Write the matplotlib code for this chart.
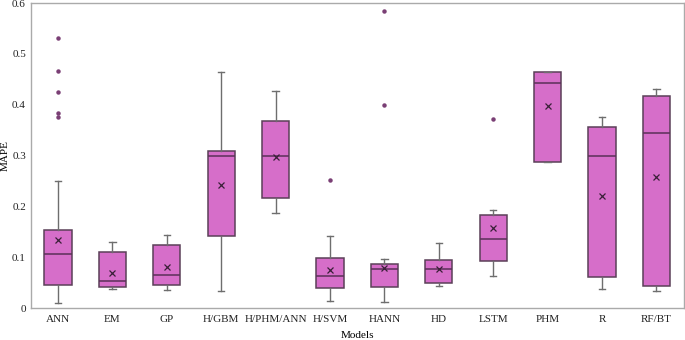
import matplotlib
matplotlib.use("Agg")
import matplotlib.pyplot as plt

models = ["ANN", "EM", "GP", "H/GBM", "H/PHM/ANN", "H/SVM", "HANN", "HD", "LSTM", "PHM", "R", "RF/BT"]
whislo = [0.009, 0.038, 0.035, 0.034, 0.186, 0.013, 0.011, 0.044, 0.064, 0.287, 0.037, 0.034]
q1     = [0.045, 0.041, 0.045, 0.142, 0.216, 0.040, 0.042, 0.050, 0.093, 0.287, 0.062, 0.044]
med    = [0.106, 0.053, 0.065, 0.300, 0.300, 0.064, 0.076, 0.076, 0.135, 0.442, 0.300, 0.345]
q3     = [0.154, 0.110, 0.124, 0.309, 0.368, 0.099, 0.086, 0.094, 0.184, 0.465, 0.356, 0.418]
whishi = [0.249, 0.129, 0.144, 0.465, 0.427, 0.141, 0.097, 0.127, 0.193, 0.465, 0.376, 0.431]
means  = [0.134, 0.069, 0.080, 0.243, 0.297, 0.075, 0.079, 0.077, 0.158, 0.397, 0.220, 0.257]
fliers = [[0.531, 0.466, 0.425, 0.383, 0.375], [], [], [], [], [0.252], [0.585, 0.399], [], [0.372], [], [], []]

plt.rcParams['font.family'] = ['Liberation Serif', 'DejaVu Serif']

fig = plt.figure(figsize=(6.85, 3.4), dpi=100)
ax = fig.add_axes([0.045, 0.094, 0.953, 0.897])

stats = []
for i, m in enumerate(models):
    stats.append(dict(label=m, whislo=whislo[i], q1=q1[i], med=med[i], q3=q3[i],
                      whishi=whishi[i], mean=means[i], fliers=fliers[i]))

ax.bxp(stats, positions=range(len(models)), widths=0.5, patch_artist=True, showmeans=True,
       boxprops=dict(facecolor="#d66ec9", edgecolor="#5b4058", linewidth=1.1),
       medianprops=dict(color="#5b3058", linewidth=1.1),
       whiskerprops=dict(color="#6e6e6e", linewidth=1.0),
       capprops=dict(color="#6e6e6e", linewidth=1.0),
       capwidths=0.12,
       meanprops=dict(marker="x", markeredgecolor="#3a2038", markersize=5, markeredgewidth=0.9),
       flierprops=dict(marker="o", markerfacecolor="#7a3f75", markeredgecolor="#7a3f75", markersize=2.2))

ax.set_xlim(-0.5, len(models) - 0.5)
ax.set_ylim(0, 0.6)
ax.set_yticks([0, 0.1, 0.2, 0.3, 0.4, 0.5, 0.6])
ax.set_yticklabels(["0", "0.1", "0.2", "0.3", "0.4", "0.5", "0.6"])
ax.set_xticks(range(len(models)))
ax.set_xticklabels(models)
ax.tick_params(axis="y", length=0, labelsize=8, colors="#222222", pad=3.5)
ax.tick_params(axis="x", length=0, labelsize=8, colors="#222222", pad=5)
for s in ax.spines.values():
    s.set_color("#aaaaaa")
    s.set_linewidth(1.0)
ax.set_xlabel("Models", fontsize=8)
ax.set_ylabel("MAPE", fontsize=8)
ax.yaxis.set_label_coords(-0.032, 0.5)
ax.xaxis.set_label_coords(0.5, -0.074)

fig.savefig("out.png", dpi=100)
